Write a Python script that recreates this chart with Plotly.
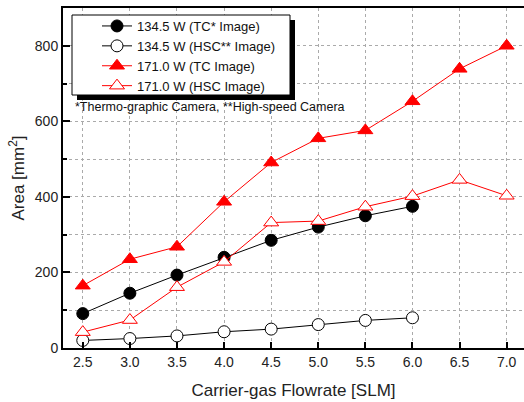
import plotly.graph_objects as go

flow_a = [2.5, 3.0, 3.5, 4.0, 4.5, 5.0, 5.5, 6.0]
flow_b = [2.5, 3.0, 3.5, 4.0, 4.5, 5.0, 5.5, 6.0, 6.5, 7.0]
tc_1345 = [91, 145, 193, 240, 285, 320, 350, 375]
hsc_1345 = [20, 25, 32, 43, 50, 62, 73, 80]
tc_1710 = [165, 235, 268, 387, 491, 555, 576, 653, 739, 800]
hsc_1710 = [42, 74, 161, 228, 332, 336, 374, 402, 445, 403]

names = ["134.5 W (TC* Image)", "134.5 W (HSC** Image)", "171.0 W (TC Image)", "171.0 W (HSC Image)"]

fig = go.Figure()
fig.add_trace(go.Scatter(x=flow_a, y=tc_1345, name=names[0], mode="lines+markers",
                         line=dict(color="black", width=1),
                         marker=dict(symbol="circle", size=12, color="black", line=dict(color="black", width=1))))
fig.add_trace(go.Scatter(x=flow_a, y=hsc_1345, name=names[1], mode="lines+markers",
                         line=dict(color="black", width=1),
                         marker=dict(symbol="circle", size=12, color="white", line=dict(color="black", width=1))))
fig.add_trace(go.Scatter(x=flow_b, y=tc_1710, name=names[2], mode="lines+markers",
                         line=dict(color="red", width=1),
                         marker=dict(symbol="triangle-up", size=13, color="red", line=dict(color="red", width=1))))
fig.add_trace(go.Scatter(x=flow_b, y=hsc_1710, name=names[3], mode="lines+markers",
                         line=dict(color="red", width=1),
                         marker=dict(symbol="triangle-up", size=13, color="white", line=dict(color="red", width=1))))

PL, PT, PW, PH = 63, 8, 461, 340


def px_x(p):
    return (p - PL) / PW


def px_y(p):
    return (PT + PH - p) / PH


font_family = "Liberation Sans, Arial, sans-serif"
fig.update_layout(
    width=524, height=402,
    margin=dict(l=PL, r=524 - PL - PW, t=PT, b=402 - PT - PH),
    paper_bgcolor="white", plot_bgcolor="white",
    font=dict(family=font_family, color="#222"),
    showlegend=True,
    legend=dict(x=px_x(97), y=px_y(11), xanchor="left", yanchor="top",
                bgcolor="rgba(0,0,0,0)", borderwidth=0,
                font=dict(size=13, color="#111"), tracegroupgap=0),
    xaxis=dict(range=[2.29, 7.184], tickmode="array", automargin=False,
               tickvals=[2.5, 3.0, 3.5, 4.0, 4.5, 5.0, 5.5, 6.0, 6.5, 7.0],
               ticktext=["2.5", "3.0", "3.5", "4.0", "4.5", "5.0", "5.5", "6.0", "6.5", "7.0"],
               ticks="inside", ticklen=6, tickwidth=1.5, tickcolor="black",
               showline=True, linecolor="black", linewidth=2, mirror=True,
               showgrid=True, gridcolor="#aaaaaa", griddash="dot", gridwidth=1,
               zeroline=False, tickfont=dict(size=14, color="#222"),
               title=dict(text="Carrier-gas Flowrate [SLM]", font=dict(size=17, color="#222"), standoff=15)),
    yaxis=dict(range=[0, 900], tickmode="array", tickvals=[0, 200, 400, 600, 800], automargin=False,
               ticks="inside", ticklen=7, tickwidth=1.5, tickcolor="black",
               minor=dict(tickvals=[100, 300, 500, 700], ticks="inside", ticklen=4, tickcolor="black",
                          showgrid=True, gridcolor="#aaaaaa", griddash="dot", gridwidth=1),
               showline=True, linecolor="black", linewidth=2, mirror=False,
               showgrid=True, gridcolor="#aaaaaa", griddash="dot", gridwidth=1,
               zeroline=False, tickfont=dict(size=14, color="#222"),
               title=dict(text="Area [mm<sup>2</sup>]", font=dict(size=17, color="#222"), standoff=6)),
)

# legend drop shadow and box
fig.add_shape(type="rect", xref="paper", yref="paper",
              x0=px_x(77), x1=px_x(295), y0=px_y(100), y1=px_y(20),
              fillcolor="black", line=dict(width=0), layer="above")
fig.add_shape(type="rect", xref="paper", yref="paper",
              x0=px_x(72), x1=px_x(290), y0=px_y(95), y1=px_y(15),
              fillcolor="white", line=dict(width=1, color="black"), layer="above")

fig.add_annotation(text="*Thermo-graphic Camera, **High-speed Camera", xref="paper", yref="paper",
                   x=px_x(73), y=px_y(107), xanchor="left", yanchor="middle",
                   showarrow=False, font=dict(size=12.5, color="#111"))

fig.write_html("out.html", config={"displayModeBar": False},
               post_script="document.body.style.margin='0';document.body.style.padding='0';")
